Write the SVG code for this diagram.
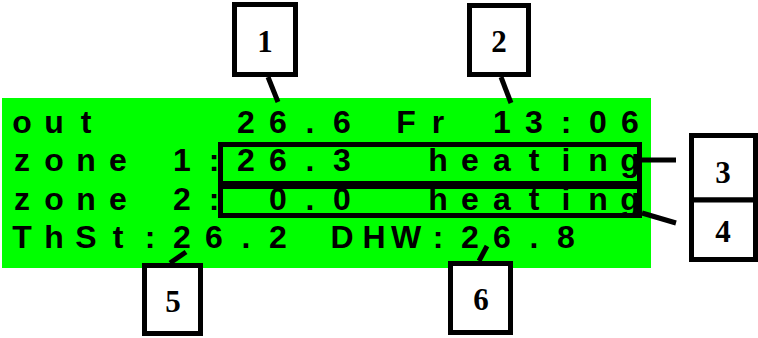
<svg xmlns="http://www.w3.org/2000/svg" width="758" height="338" viewBox="0 0 758 338">
<style>
.lcd{font-family:"Liberation Sans",Arial,sans-serif;font-weight:bold;font-size:32px;fill:#000;text-anchor:middle}
.hl{fill:none;stroke:#000;stroke-width:5}
.box{fill:#fff;stroke:#000;stroke-width:5}
.num{font-family:"Liberation Serif","Times New Roman",serif;font-weight:bold;font-size:31px;fill:#000;text-anchor:middle}
.con{stroke:#000;stroke-width:5;fill:none}
</style>
<rect x="2" y="98" width="649" height="170" fill="#00ff00"/>
<g id="display">
<text class="lcd" x="22 54 86" y="133">out</text>
<text class="lcd" x="246 278 310 342" y="133">26.6</text>
<text class="lcd" x="406 438" y="133">Fr</text>
<text class="lcd" x="502 534 566 598 630" y="133">13:06</text>
<text class="lcd" x="22 54 86 118" y="171">zone</text>
<text class="lcd" x="182 214 246 278 310 342" y="171">1:26.3</text>
<text class="lcd" x="438 470 502 534 566 598 630" y="171">heating</text>
<text class="lcd" x="22 54 86 118" y="210">zone</text>
<text class="lcd" x="182 214" y="210">2:</text>
<text class="lcd" x="278 310 342" y="210">0.0</text>
<text class="lcd" x="438 470 502 534 566 598 630" y="210">heating</text>
<text class="lcd" x="22 54 86 118 150 182 214 246 278" y="248">ThSt:26.2</text>
<text class="lcd" x="342 374 406 438 470 502 534 566" y="248">DHW:26.8</text>
</g>
<g id="highlights">
<rect class="hl" x="220.5" y="144.5" width="419" height="39"/>
<rect class="hl" x="220.5" y="186.5" width="419" height="29"/>
</g>
<g id="connectors">
<line class="con" x1="268" y1="77" x2="278" y2="102"/>
<line class="con" x1="501" y1="77" x2="511" y2="103"/>
<line class="con" x1="642" y1="160" x2="676" y2="160"/>
<line class="con" x1="642" y1="213" x2="676" y2="223"/>
<line class="con" x1="170" y1="263" x2="186" y2="252"/>
<line class="con" x1="479" y1="261" x2="487" y2="246"/>
</g>
<g id="label1"><rect class="box" x="234.5" y="4.5" width="61" height="70"/><text class="num" x="265" y="52">1</text></g>
<g id="label2"><rect class="box" x="469.5" y="5.5" width="59" height="69"/><text class="num" x="499" y="52">2</text></g>
<g id="label3"><rect class="box" x="691.5" y="135.5" width="64" height="64.5"/><text class="num" x="723" y="183">3</text></g>
<g id="label4"><rect class="box" x="691.5" y="200" width="64" height="59.5"/><text class="num" x="723" y="242">4</text></g>
<g id="label5"><rect class="box" x="144.5" y="265.5" width="56" height="68"/><text class="num" x="173" y="312">5</text></g>
<g id="label6"><rect class="box" x="450.5" y="263.5" width="60" height="69"/><text class="num" x="481" y="310">6</text></g>
</svg>
